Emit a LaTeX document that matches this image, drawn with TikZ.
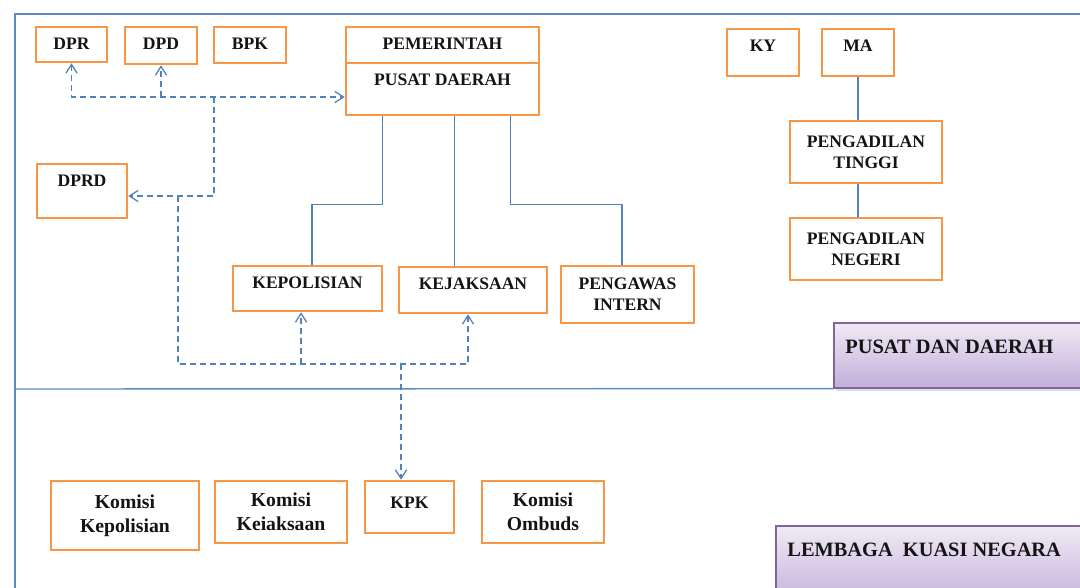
\documentclass[tikz,border=0pt]{standalone}
\usepackage{fontspec}
\setmainfont{Liberation Serif}
\usetikzlibrary{positioning, arrows.meta, shadows}
\definecolor{orgline}{HTML}{F79646}
\definecolor{blueline}{HTML}{4F81BD}
\definecolor{frameblue}{HTML}{5B8BC6}
\definecolor{purpline}{HTML}{8064A2}
\definecolor{purptop}{HTML}{EFEAF5}
\definecolor{purpbot}{HTML}{C3AED9}
\definecolor{ink}{HTML}{141414}

\begin{document}
\begin{tikzpicture}[x=0.25mm, y=-0.25mm, text=ink,
    font=\bfseries\fontsize{12.5}{15}\selectfont,
    >={Straight Barb[length=2.2mm, width=2.8mm]},
    unitbox/.style={draw=orgline, line width=1.8pt, fill=white, align=center, inner sep=1pt},
    komisi/.style={unitbox, font=\bfseries\fontsize{14}{17}\selectfont},
    toptext/.style={label={[anchor=north, yshift=-1.7mm]north:#1}},
    tagbox/.style={draw=purpline, line width=0.8pt, top color=purptop, bottom color=purpbot,
      drop shadow={shadow xshift=0.4mm, shadow yshift=-0.8mm, opacity=0.25}},
    tagtext/.style={label={[anchor=north west, xshift=1.75mm, yshift=-3.2mm,
      font=\bfseries\fontsize{14.5}{17}\selectfont]north west:#1}},
    solidlink/.style={draw=blueline, line width=0.85pt},
    dashlink/.style={draw=blueline, line width=0.9pt, dash pattern=on 1.5mm off 1mm},
    frameline/.style={draw=frameblue, line width=1pt}]

  \path[use as bounding box, fill=white] (0,0) rectangle (1080,587);

  % Outer frame and the band divider.
  \draw[frameline] (1100,14) -| (15,600);

  % Legislative and audit bodies.
  \node[unitbox, minimum width=17.75mm, minimum height=8.75mm, toptext=DPR] (dpr) at (71.5,44.5) {};
  \node[unitbox, minimum width=18mm, minimum height=9.25mm, toptext=DPD] (dpd) at (161,45.5) {};
  \node[unitbox, minimum width=18mm, minimum height=9mm, toptext=BPK] (bpk) at (250,45) {};
  \node[unitbox, minimum width=22.5mm, minimum height=13.5mm, toptext=DPRD] (dprd) at (82,191) {};

  % Government and its law-enforcement arms.
  \node[unitbox, minimum width=48.25mm, minimum height=9mm, toptext=PEMERINTAH] (pemerintah) at (442.5,45) {};
  \node[unitbox, minimum width=48.25mm, minimum height=13mm, toptext=PUSAT DAERAH] (pusat) at (442.5,89) {};
  \node[unitbox, minimum width=37.25mm, minimum height=11.25mm, toptext=KEPOLISIAN] (kepolisian) at (307.5,288.5) {};
  \node[unitbox, minimum width=37mm, minimum height=11.5mm, toptext=KEJAKSAAN] (kejaksaan) at (473,290) {};
  \node[unitbox, minimum width=33.25mm, minimum height=14.25mm] (pengawas) at (627.5,294.5) {PENGAWAS\\INTERN};

  % Judiciary.
  \node[unitbox, minimum width=18mm, minimum height=11.75mm, toptext=KY] (ky) at (763,52.5) {};
  \node[unitbox, minimum width=18mm, minimum height=11.75mm, toptext=MA] (ma) at (858,52.5) {};
  \node[unitbox, minimum width=38mm, minimum height=15.5mm] (tinggi) at (866,152) {PENGADILAN\\TINGGI};
  \node[unitbox, minimum width=38mm, minimum height=15.5mm, below=8.1mm of tinggi] (negeri) {PENGADILAN\\NEGERI};

  % Quasi-state bodies.
  \node[komisi, minimum width=37mm, minimum height=17.25mm] (kompol) at (125,515.5) {Komisi\\Kepolisian};
  \node[komisi, minimum width=33mm, minimum height=15.5mm] (komjak) at (281,512) {Komisi\\Keiaksaan};
  \node[unitbox, minimum width=22.25mm, minimum height=13mm,
        label={[anchor=north, yshift=-3mm]north:KPK}] (kpk) at (409.5,507) {};
  \node[komisi, minimum width=30.5mm, minimum height=15.5mm] (ombuds) at (543,512) {Komisi\\Ombuds};

  % Band tags.
  \node[tagbox, minimum width=65.25mm, minimum height=16.25mm, tagtext=PUSAT DAN DAERAH] (pdtag) at (964.5,355.5) {};
  \node[tagbox, minimum width=79.75mm, minimum height=20mm, tagtext={LEMBAGA\ \ KUASI NEGARA}] (lkntag) at (935.5,566) {};
  \draw[frameline] (15,389) -- (pdtag.south west);

  % Lines of command.
  \draw[solidlink] ([xshift=-15.1mm]pusat.south) -- ++(0,88) -| ([xshift=1.1mm]kepolisian.north);
  \draw[solidlink] ([xshift=2.9mm]pusat.south) -- ([xshift=2.9mm]pusat.south |- kejaksaan.north);
  \draw[solidlink] ([xshift=16.9mm]pusat.south) -- ++(0,88) -| ([xshift=-1.4mm]pengawas.north);
  \draw[solidlink] (ma.south) -- (ma.south |- tinggi.north);
  \draw[solidlink] (tinggi.south -| ma) -- (negeri.north -| ma);

  % Lines of oversight.
  \coordinate (hubup) at (214,97);
  \coordinate (hublow) at (178,196);
  \coordinate (fork) at (401,364);
  \draw[dashlink, <->] (dpr) |- (pusat.west |- hubup);
  \draw[dashlink, ->] (dpd |- hubup) -- (dpd);
  \draw[dashlink, ->] (hubup) |- (dprd.east |- hublow);
  \draw[dashlink, ->] (hublow) |- ([xshift=-1.25mm]kejaksaan.south |- fork) -- ([xshift=-1.25mm]kejaksaan.south);
  \draw[dashlink, ->] ([xshift=-1.6mm]kepolisian.south |- fork) -- ([xshift=-1.6mm]kepolisian.south);
  \draw[dashlink, ->] (fork) -- (fork |- kpk.north);
\end{tikzpicture}
\end{document}
